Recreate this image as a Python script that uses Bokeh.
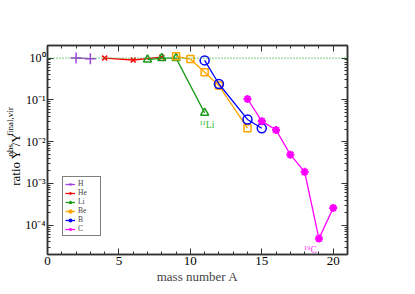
import math
from bokeh.plotting import figure
from bokeh.layouts import row
from bokeh.models import (Range1d, LinearAxis, LogAxis, Span, Label, Legend, LegendItem,
                          FixedTicker, LogTicker)
from bokeh.embed import file_html
from bokeh.resources import INLINE

# ---- data ----
H_x = [2, 3]
H_y = [1.0, 0.97]
He_x = [4, 6, 8]
He_y = [1.0, 0.9, 1.05]
Li_x = [7, 8, 9, 11]
Li_y = [0.92, 1.0, 1.0, 0.049]
Be_x = [9, 10, 11, 12, 14]
Be_y = [1.1, 0.95, 0.46, 0.22, 0.021]
B_x = [11, 12, 14, 15]
B_y = [0.88, 0.24, 0.034, 0.021]
C_x = [14, 15, 16, 17, 18, 19, 20]
C_y = [0.105, 0.031, 0.019, 0.0049, 0.0019, 4.8e-5, 2.6e-4]

x_ticks = [0, 5, 10, 15, 20]
y_ticks = [1e-4, 1e-3, 1e-2, 1e-1, 1e0]
y_tick_labels = ["10\u207b\u2074", "10\u207b\u00b3", "10\u207b\u00b2", "10\u207b\u00b9", "10\u2070"]

FONT = "Liberation Serif"
AX = "#333333"
H = 286
LW = 22                     # width of the strip holding the y-axis title
W = 407 - LW
FL, FT, FW, FH = 45 - LW, 45, 302, 212

p = figure(width=W, height=H, x_range=Range1d(0, 21), y_range=Range1d(2e-5, 2),
           y_axis_type="log", output_backend="svg", toolbar_location=None,
           min_border_left=FL, min_border_top=FT, min_border_right=W - FL - FW,
           min_border_bottom=H - FT - FH,
           x_axis_location=None, y_axis_location=None)
p.grid.visible = False
p.outline_line_color = AX
p.outline_line_width = 1.5
p.background_fill_color = "white"
p.border_fill_color = "white"


def style(ax, labels=True):
    ax.axis_line_color = AX
    ax.axis_line_width = 1.5
    ax.major_tick_in = 6
    ax.major_tick_out = 0
    ax.minor_tick_in = 3
    ax.minor_tick_out = 0
    ax.major_tick_line_color = AX
    ax.minor_tick_line_color = AX
    ax.major_tick_line_width = 1
    ax.minor_tick_line_width = 1
    ax.major_label_text_font = FONT
    ax.major_label_text_font_size = "13px"
    ax.major_label_text_color = "black" if labels else None
    ax.major_label_standoff = 3


xt = FixedTicker(ticks=x_ticks, minor_ticks=list(range(0, 22)))
bottom = LinearAxis(ticker=xt, axis_label="mass number A", axis_label_text_font=FONT,
                    axis_label_text_font_size="13px", axis_label_text_font_style="normal",
                    axis_label_standoff=1)
style(bottom)
bottom.major_label_standoff = 2
top = LinearAxis(ticker=xt)
style(top, labels=False)
top.major_label_text_font_size = "0px"
p.add_layout(bottom, "below")
p.add_layout(top, "above")

left = LogAxis(ticker=LogTicker(desired_num_ticks=6, num_minor_ticks=10))
style(left)
left.major_label_text_font_size = "12px"
left.major_label_standoff = 2
left.major_label_overrides = {t: s for t, s in zip(y_ticks, y_tick_labels)}
right = LogAxis(ticker=LogTicker(desired_num_ticks=6, num_minor_ticks=10))
style(right, labels=False)
right.major_label_text_font_size = "0px"
p.add_layout(left, "left")
p.add_layout(right, "right")

p.add_layout(Span(location=1.0, dimension="width", line_color="#33aa33",
                  line_dash="1 2", line_width=1.2))

series = [
    ("H", H_x, H_y, "#a040e0", "cross", 11, False),
    ("He", He_x, He_y, "#ff0000", "x", 7, False),
    ("Li", Li_x, Li_y, "#1a9a1a", "triangle", 8, True),
    ("Be", Be_x, Be_y, "#ffa500", "square", 7, True),
    ("B", B_x, B_y, "#0000ff", "circle", 9, True),
    ("C", C_x, C_y, "#ff00ff", "asterisk", 8, False),
]
items = []
for name, xs, ys, col, mk, sz, hollow in series:
    lr = p.line(xs, ys, line_color=col, line_width=1.3)
    kw = dict(marker=mk, size=sz, line_color=col, line_width=1.5)
    if hollow:
        kw["fill_color"] = "white"
        kw["fill_alpha"] = 0.0
    else:
        kw["fill_color"] = col
    if mk == "asterisk":
        kw["line_width"] = 2.2
    sr = p.scatter(xs, ys, **kw)
    items.append(LegendItem(label=name, renderers=[lr, sr]))

legend = Legend(items=items, location=(15, 18), border_line_color="black",
                border_line_width=1, background_fill_color="white", background_fill_alpha=1,
                label_text_font=FONT, label_text_font_size="7.5px", label_height=6,
                glyph_height=6, glyph_width=10, spacing=0, padding=2, margin=0,
                label_standoff=3)
p.add_layout(legend, "center")

# isotope annotations
p.add_layout(Label(x=Li_x[3], y=Li_y[3], text="\u00b9\u00b9Li", text_color="#33bb33",
                   text_font=FONT, text_font_size="10px", x_offset=-5, y_offset=-12,
                   text_align="left", text_baseline="alphabetic"))
p.add_layout(Label(x=C_x[5], y=C_y[5], text="\u00b9\u2079C", text_color="#ff44ff",
                   text_font=FONT, text_font_size="10px", x_offset=-15, y_offset=-11,
                   text_align="left", text_baseline="alphabetic"))

# ---- narrow strip holding the rotated y-axis title (pixel coordinates, y up) ----
t = figure(width=LW, height=H, x_range=Range1d(0, LW), y_range=Range1d(0, H),
           output_backend="svg", toolbar_location=None, min_border=0,
           x_axis_location=None, y_axis_location=None)
t.grid.visible = False
t.outline_line_color = None
t.background_fill_color = "white"
t.border_fill_color = "white"


def ylab(txt, x_px, y_px_from_top, size):
    t.add_layout(Label(x=x_px, y=H - y_px_from_top, text=txt, angle=math.pi / 2,
                       text_font=FONT, text_font_size=size, text_align="left",
                       text_baseline="middle", text_color="black"))

ylab("ratio Y", 14.5, 192, "13px")
ylab("obs", 9.5, 152, "9px")
ylab("/Y", 14.5, 138, "13px")
ylab("final,vir", 9.5, 124, "9px")

layout = row(t, p, spacing=0)
open("out.html", "w").write(file_html(layout, INLINE))
